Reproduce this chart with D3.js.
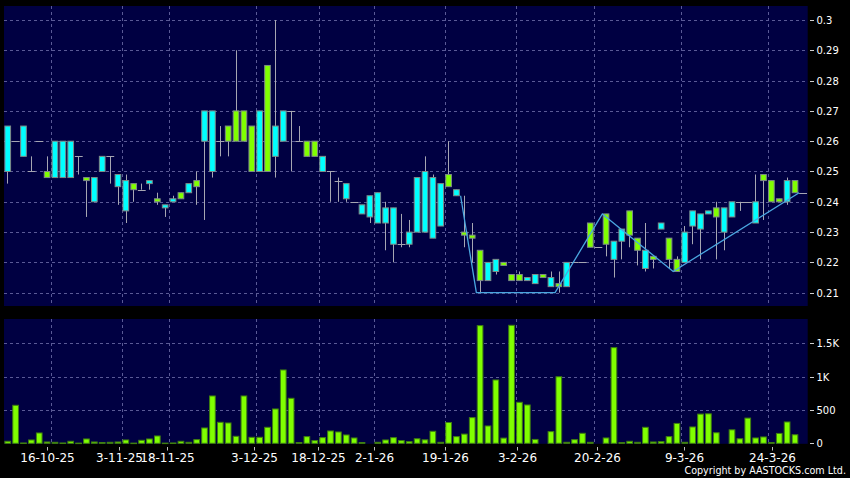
<!DOCTYPE html>
<html><head><meta charset="utf-8">
<script src="https://cdn.jsdelivr.net/npm/d3@7/dist/d3.min.js"></script>
<style>html,body{margin:0;padding:0;background:#000;} svg{display:block;}</style>
</head><body>
<svg id="c" width="850" height="478"></svg>
<script>
// ---- data ----
const opens  = [0.265,0.26,0.265,0.25,0.26,0.248,0.26,0.26,0.26,0.255,0.247,0.248,0.255,0.255,0.249,0.247,0.244,0.244,0.247,0.24,
                0.239,0.241,0.241,0.246,0.245,0.27,0.27,0.26,0.26,0.26,0.26,0.25,0.27,0.25,0.265,0.27,0.27,0.26,0.255,0.255,
                0.255,0.25,0.247,0.246,0.24,0.239,0.242,0.243,0.238,0.238,0.226,0.23,0.248,0.25,0.248,0.246,0.245,0.244,0.229,0.228,
                0.214,0.22,0.221,0.219,0.214,0.214,0.215,0.216,0.215,0.215,0.212,0.22,0.22,0.22,0.225,0.225,0.226,0.227,0.231,0.229,
                0.224,0.224,0.221,0.233,0.221,0.217,0.23,0.237,0.236,0.237,0.235,0.238,0.24,0.24,0.24,0.24,0.247,0.24,0.24,0.247,
                0.243,0.243];
const highs  = [0.265,0.26,0.265,0.255,0.26,0.255,0.26,0.26,0.26,0.255,0.248,0.248,0.255,0.255,0.249,0.249,0.246,0.246,0.247,0.243,
                0.239,0.242,0.243,0.246,0.25,0.27,0.27,0.265,0.265,0.29,0.27,0.265,0.27,0.285,0.3,0.27,0.27,0.265,0.26,0.26,
                0.255,0.25,0.248,0.246,0.24,0.239,0.242,0.243,0.24,0.238,0.236,0.234,0.248,0.255,0.249,0.246,0.26,0.244,0.242,0.233,
                0.224,0.22,0.221,0.22,0.216,0.217,0.215,0.216,0.216,0.217,0.217,0.22,0.22,0.22,0.233,0.225,0.236,0.227,0.231,0.237,
                0.228,0.233,0.222,0.233,0.228,0.222,0.232,0.237,0.236,0.237,0.24,0.238,0.24,0.24,0.24,0.249,0.249,0.247,0.241,0.248,
                0.247,0.243];
const lows   = [0.246,0.26,0.255,0.25,0.26,0.248,0.248,0.248,0.248,0.249,0.235,0.24,0.25,0.246,0.239,0.233,0.24,0.244,0.244,0.239,
                0.235,0.24,0.241,0.243,0.239,0.234,0.248,0.255,0.255,0.26,0.26,0.25,0.25,0.25,0.248,0.26,0.25,0.26,0.255,0.255,
                0.25,0.24,0.24,0.24,0.24,0.236,0.233,0.233,0.224,0.22,0.225,0.225,0.23,0.23,0.228,0.232,0.245,0.242,0.225,0.22,
                0.21,0.214,0.216,0.219,0.214,0.214,0.214,0.213,0.215,0.212,0.21,0.212,0.22,0.22,0.225,0.225,0.222,0.215,0.221,0.225,
                0.219,0.217,0.218,0.231,0.218,0.217,0.22,0.226,0.221,0.236,0.221,0.224,0.235,0.237,0.24,0.233,0.234,0.24,0.24,0.239,
                0.243,0.243];
const closes = [0.25,0.26,0.255,0.25,0.26,0.25,0.248,0.248,0.248,0.255,0.248,0.24,0.25,0.255,0.245,0.237,0.246,0.244,0.246,0.241,
                0.238,0.24,0.243,0.243,0.247,0.26,0.25,0.26,0.265,0.27,0.27,0.265,0.25,0.285,0.255,0.26,0.27,0.26,0.26,0.26,
                0.25,0.25,0.247,0.241,0.24,0.236,0.235,0.233,0.233,0.226,0.226,0.226,0.23,0.23,0.228,0.232,0.249,0.242,0.23,0.229,
                0.224,0.214,0.217,0.22,0.216,0.216,0.214,0.213,0.216,0.212,0.213,0.212,0.22,0.22,0.233,0.225,0.236,0.221,0.227,0.237,
                0.228,0.218,0.222,0.231,0.228,0.221,0.22,0.232,0.231,0.236,0.238,0.23,0.235,0.24,0.24,0.233,0.249,0.247,0.241,0.24,
                0.247,0.243];
const volumes = [30,570,5,50,155,20,15,5,30,3,65,20,12,15,20,50,3,45,65,110,
                 3,5,30,15,55,230,710,315,305,105,710,90,90,240,515,1100,675,12,100,40,
                 85,185,170,125,80,12,0,15,50,85,40,25,68,52,180,15,312,100,138,385,
                 1765,260,950,78,1770,615,575,58,0,175,998,15,55,150,15,0,80,1435,10,30,
                 15,240,20,25,100,298,15,245,438,442,158,0,202,68,378,80,95,10,148,320,
                 128,0];
const tickIndex  = [6,15,21,32,40,47,56,65,75,86,97];
const tickLabels = ["16-10-25","3-11-25","18-11-25","3-12-25","18-12-25","2-1-26","19-1-26","3-2-26","20-2-26","9-3-26","24-3-26"];
const priceTicks = [0.21,0.22,0.23,0.24,0.25,0.26,0.27,0.28,0.29,0.30];
const priceTickLabels = ["0.21","0.22","0.23","0.24","0.25","0.26","0.27","0.28","0.29","0.3"];
const volTicks = [0,500,1000,1500];
const volTickLabels = ["0","500","1K","1.5K"];
const zzIndex = [58,60,70,76,85,101];
const zzValue = [0.242,0.21,0.21,0.236,0.217,0.243];

// ---- layout ----
const N = opens.length;
const L = 4, R = 807.7;
const P = {top:6, bottom:306};
const V = {top:319, bottom:443.8};
const UP = "#80ff00", DOWN = "#00ffff", WICK = "#a6a6b2", BG = "#000042", GRID = "#5a5a96";
const FONT = "DejaVu Sans, Verdana, sans-serif";

const svg = d3.select("#c");
svg.append("rect").attr("width",850).attr("height",478).attr("fill","#000");

const x = d3.scaleBand().domain(d3.range(N)).range([L, 807]).padding(0);
const bw = x.bandwidth();
const yP = d3.scaleLinear().domain([0.21,0.30]).range([292.7,20]);
const yV = d3.scaleLinear().domain([0,1500]).range([443.3,343.3]);

// panels
svg.append("rect").attr("x",L).attr("y",P.top).attr("width",R-L).attr("height",P.bottom-P.top).attr("fill",BG);
svg.append("rect").attr("x",L).attr("y",V.top).attr("width",R-L).attr("height",V.bottom-V.top).attr("fill",BG);

const px = v => Math.round(v) + 0.5;

// grids
const g = svg.append("g").attr("stroke",GRID).attr("stroke-width",1).attr("stroke-dasharray","3,3").attr("fill","none");
tickIndex.forEach(i => {
  const gx = px(x(i));
  g.append("line").attr("x1",gx).attr("x2",gx).attr("y1",P.top).attr("y2",P.bottom);
  g.append("line").attr("x1",gx).attr("x2",gx).attr("y1",V.top).attr("y2",V.bottom);
});
priceTicks.forEach(t => {
  const gy = px(yP(t));
  g.append("line").attr("x1",L).attr("x2",R).attr("y1",gy).attr("y2",gy);
});
volTicks.filter(t => t > 0).forEach(t => {
  const gy = px(yV(t));
  g.append("line").attr("x1",L).attr("x2",R).attr("y1",gy).attr("y2",gy);
});

// candles
const cg = svg.append("g");
d3.range(N).forEach(i => {
  const o = opens[i], c = closes[i], h = highs[i], l = lows[i];
  const cx = Math.floor(x(i) + bw/2) + 0.5;
  if (h > l) {
    cg.append("line").attr("x1",cx).attr("x2",cx).attr("y1",yP(h)).attr("y2",yP(l))
      .attr("stroke",WICK).attr("stroke-width",1);
  }
  if (o === c) {
    const yy = px(yP(o));
    cg.append("line").attr("x1",x(i)).attr("x2",x(i)+bw).attr("y1",yy).attr("y2",yy)
      .attr("stroke",WICK).attr("stroke-width",1);
  } else {
    const top = yP(Math.max(o,c)), bot = yP(Math.min(o,c));
    cg.append("rect").attr("x",x(i)+0.9).attr("y",top).attr("width",bw-2.2).attr("height",bot-top)
      .attr("fill", c > o ? UP : DOWN).attr("stroke","#7d8a88").attr("stroke-width",1);
  }
});

// zigzag line
const zz = zzIndex.map((d,k) => [x(d), yP(zzValue[k])]);
svg.append("path").attr("d", d3.line()(zz)).attr("fill","none")
  .attr("stroke","#4aa6e0").attr("stroke-width",1.3);

// volume bars
const vg = svg.append("g");
d3.range(N).forEach(i => {
  const v = volumes[i];
  if (v <= 0) return;
  const top = yV(v), bot = yV(0);
  vg.append("rect").attr("x",x(i)+0.9).attr("y",top).attr("width",bw-2.2).attr("height",Math.max(bot-top,0.5))
    .attr("fill",UP).attr("stroke","#3f7f10").attr("stroke-width",1);
});

// right axes
const ax = svg.append("g").attr("font-family",FONT).attr("font-size",10).attr("fill","#fff");
priceTicks.forEach((t,k) => {
  const yy = px(yP(t));
  ax.append("line").attr("x1",810).attr("x2",814).attr("y1",yy).attr("y2",yy).attr("stroke","#cfcfcf");
  ax.append("text").attr("x",816.5).attr("y",yy).attr("dy","0.36em").text(priceTickLabels[k]);
});
volTicks.forEach((t,k) => {
  const yy = px(yV(t));
  ax.append("line").attr("x1",810).attr("x2",814).attr("y1",yy).attr("y2",yy).attr("stroke","#cfcfcf");
  ax.append("text").attr("x",816.5).attr("y",yy).attr("dy","0.36em").text(volTickLabels[k]);
});

// bottom date axis
const bx = svg.append("g").attr("font-family",FONT).attr("font-size",12).attr("fill","#fff");
tickIndex.forEach((i,k) => {
  const tx = Math.round(x(i) * 1.0117 - 4.6) + 0.5;
  bx.append("line").attr("x1",tx).attr("x2",tx).attr("y1",447).attr("y2",450.5).attr("stroke","#bdbdbd");
  bx.append("text").attr("x",tx).attr("y",462).attr("text-anchor","middle").text(tickLabels[k]);
});

svg.append("text").attr("x",846).attr("y",474).attr("text-anchor","end")
  .attr("font-family",FONT).attr("font-size",9.6).attr("fill","#fff")
  .text("Copyright by AASTOCKS.com Ltd.");
</script>
</body></html>
